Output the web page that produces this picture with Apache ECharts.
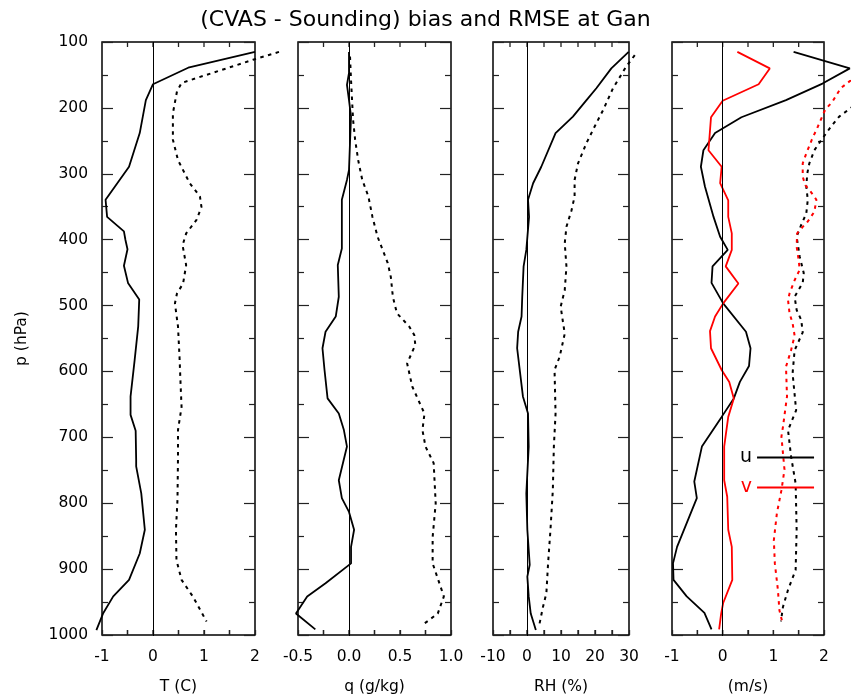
<!DOCTYPE html>
<html>
<head>
<meta charset="utf-8">
<script src="https://cdn.jsdelivr.net/npm/echarts@6/dist/echarts.min.js"></script>
<style>html,body{margin:0;padding:0;background:#fff;}#c{width:851px;height:700px;}</style>
</head>
<body>
<div id="c"></div>
<script>
// ---- data: [value, pressure(hPa)] ----
const tBias = [[2.0,115],[0.69,139],[0.0,164],[-0.14,188],[-0.2,213],[-0.26,238],[-0.47,289],[-0.93,339],[-0.9,365],[-0.57,387],[-0.54,400],[-0.5,414],[-0.57,439],[-0.49,465],[-0.27,490],[-0.29,531],[-0.36,582],[-0.44,637],[-0.44,665],[-0.34,689],[-0.33,733],[-0.33,743],[-0.23,784],[-0.16,839],[-0.26,875],[-0.47,915],[-0.78,940],[-0.98,966],[-1.11,991]];
const tRmse = [[2.47,115],[1.96,127],[0.56,162],[0.47,175],[0.39,208],[0.39,248],[0.49,279],[0.72,314],[0.92,334],[0.95,350],[0.85,370],[0.65,390],[0.58,408],[0.65,438],[0.59,466],[0.47,481],[0.43,496],[0.49,531],[0.52,577],[0.54,617],[0.56,653],[0.49,688],[0.49,730],[0.48,794],[0.45,839],[0.46,885],[0.56,915],[0.78,940],[1.05,978]];
const qBias = [[0,115],[0,147],[-0.02,165],[0,188],[0.02,213],[0.01,252],[0,294],[-0.02,309],[-0.07,339],[-0.07,365],[-0.07,413],[-0.11,438],[-0.1,486],[-0.13,516],[-0.23,539],[-0.26,564],[-0.24,597],[-0.21,640],[-0.1,663],[-0.05,688],[-0.02,713],[-0.1,764],[-0.07,791],[0,812],[0.05,839],[0.02,865],[0.02,890],[-0.23,920],[-0.41,940],[-0.52,966],[-0.33,990]];
const qRmse = [[0.01,122],[0.02,158],[0.03,188],[0.04,218],[0.06,248],[0.09,279],[0.13,309],[0.19,334],[0.23,365],[0.28,395],[0.33,415],[0.38,435],[0.41,456],[0.43,486],[0.47,511],[0.59,531],[0.64,544],[0.65,559],[0.57,587],[0.62,622],[0.74,663],[0.72,688],[0.75,713],[0.83,738],[0.85,799],[0.82,850],[0.82,890],[0.93,940],[0.87,966],[0.74,981]];
const rhBias = [[29.9,115],[24.8,140],[20.4,170],[17.5,188],[13.5,213],[8.4,238],[4.2,289],[1.8,314],[0.3,339],[0.6,365],[-0.2,415],[-1.0,440],[-1.4,486],[-1.6,516],[-2.6,539],[-2.9,564],[-1.2,637],[0.3,663],[0.5,713],[-0.2,784],[0.1,839],[0.8,892],[0.1,910],[0.5,940],[1.1,966],[2.6,991]];
const rhRmse = [[31.7,120],[29.2,137],[25.3,170],[22.4,203],[19.9,228],[17.5,253],[15.0,284],[14.0,309],[14.0,334],[13.1,355],[11.6,380],[11.1,405],[11.6,440],[11.1,476],[9.9,501],[11.1,542],[9.6,577],[8.1,597],[8.4,663],[7.9,713],[7.6,779],[6.9,839],[6.2,890],[5.7,935],[4.7,956],[3.7,981]];
const uBias = [[1.40,115],[2.51,140],[1.97,163],[1.25,188],[0.37,214],[-0.15,238],[-0.38,264],[-0.43,289],[-0.35,319],[-0.18,365],[-0.05,395],[0.1,415],[-0.2,440],[-0.22,465],[0.01,496],[0.46,539],[0.55,564],[0.52,591],[0.34,615],[0.22,640],[-0.02,668],[-0.41,713],[-0.56,766],[-0.51,791],[-0.9,865],[-0.98,890],[-0.97,915],[-0.71,940],[-0.36,965],[-0.22,990]];
const vBias = [[0.29,115],[0.93,140],[0.71,164],[0.0,189],[-0.23,214],[-0.28,264],[-0.02,289],[-0.05,314],[0.11,340],[0.11,365],[0.18,390],[0.18,415],[0.06,440],[0.31,466],[0.01,496],[-0.15,516],[-0.25,538],[-0.23,564],[-0.02,597],[0.13,615],[0.22,640],[0.11,668],[0.03,713],[0.03,764],[0.09,789],[0.11,839],[0.18,865],[0.19,915],[0.01,950],[-0.03,966],[-0.07,990]];
const uRmse = [[2.9,170],[2.53,200],[2.3,213],[2.14,228],[1.97,246],[1.81,264],[1.71,284],[1.67,299],[1.65,319],[1.68,339],[1.65,360],[1.55,377],[1.46,395],[1.52,425],[1.6,450],[1.58,465],[1.42,486],[1.46,506],[1.55,521],[1.58,540],[1.42,567],[1.38,602],[1.45,658],[1.29,688],[1.35,728],[1.44,769],[1.46,839],[1.44,900],[1.29,930],[1.19,956],[1.15,978]];
const vRmse = [[2.9,135],[2.53,158],[2.33,170],[2.17,190],[2.02,203],[1.88,228],[1.76,248],[1.65,269],[1.58,284],[1.58,304],[1.63,317],[1.74,327],[1.85,339],[1.81,357],[1.68,372],[1.58,380],[1.47,390],[1.46,410],[1.5,430],[1.52,445],[1.42,461],[1.32,481],[1.29,491],[1.32,511],[1.38,526],[1.42,545],[1.35,567],[1.25,592],[1.27,637],[1.19,683],[1.16,698],[1.22,748],[1.16,779],[1.07,814],[1.01,855],[1.03,890],[1.09,930],[1.12,961],[1.18,980]];

const panels = [
  {name:'T (C)', min:-1, max:2, tick:0.5, label:1, dec:0, bias:[{n:'T bias',d:tBias,c:'#000'}], rmse:[{n:'T rmse',d:tRmse,c:'#000'}]},
  {name:'q (g/kg)', min:-0.5, max:1.0, tick:0.25, label:0.5, dec:1, bias:[{n:'q bias',d:qBias,c:'#000'}], rmse:[{n:'q rmse',d:qRmse,c:'#000'}]},
  {name:'RH (%)', min:-10, max:30, tick:5, label:10, dec:0, bias:[{n:'RH bias',d:rhBias,c:'#000'}], rmse:[{n:'RH rmse',d:rhRmse,c:'#000'}]},
  {name:'(m/s)', min:-1, max:2, tick:0.5, label:1, dec:0, bias:[{n:'u',d:uBias,c:'#000'},{n:'v',d:vBias,c:'#ff0000'}], rmse:[{n:'u rmse',d:uRmse,c:'#000'},{n:'v rmse',d:vRmse,c:'#ff0000'}]}
];
const P_MIN = 100, P_MAX = 1000;
// layout (pixels)
const gridLefts = [102, 298, 493, 672];
const gridWidths = [153, 153, 136, 152];
const TOP = 42, HEIGHT = 594, XTICK = 5;
const PAD_L = 12, CANVAS_W = 851;

const FONT = 'DejaVu Sans';
const grids = [], xAxes = [], yAxes = [], series = [];
const tickColor = '#222';
function addGrid(g) { grids.push(g); return grids.length - 1; }

panels.forEach((p, i) => {
  const L = gridLefts[i], W = gridWidths[i];
  const ppu = W / (p.max - p.min);
  // frame grid: border, labels, y ticks
  const gF = addGrid({left: L, width: W, top: TOP, height: HEIGHT, show: true, borderColor: '#000', borderWidth: 1.5});
  const xF = xAxes.length, yF = yAxes.length;
  xAxes.push({gridIndex: gF, type: 'value', position: 'bottom', min: p.min, max: p.max, interval: p.label,
    axisLine: {show: false, onZero: false}, splitLine: {show: false},
    axisTick: {show: true, inside: true, length: XTICK, lineStyle: {color: tickColor, width: 1.3}},
    minorTick: {show: true, splitNumber: Math.round(p.label / p.tick), length: XTICK, lineStyle: {color: tickColor, width: 1.3}},
    axisLabel: {margin: 14, fontFamily: FONT, fontSize: 15.5, color: '#000', formatter: v => v.toFixed(p.dec)},
    name: p.name, nameLocation: 'middle', nameGap: 44, nameTextStyle: {fontFamily: FONT, fontSize: 15.5, color: '#000'}});
  function yBase(pos) {
    return {gridIndex: gF, type: 'value', position: pos, inverse: true, min: P_MIN, max: P_MAX, interval: 100,
      axisLine: {show: false, onZero: false}, splitLine: {show: false},
      axisTick: {show: true, inside: true, length: 11, lineStyle: {color: tickColor, width: 1.2}},
      minorTick: {show: true, splitNumber: 2, length: 6, lineStyle: {color: tickColor, width: 1.2}}};
  }
  yAxes.push(Object.assign(yBase('left'), {
    axisLabel: {show: i === 0, margin: 14, fontFamily: FONT, fontSize: 15.5, color: '#000', formatter: v => String(v)},
    name: i === 0 ? 'p (hPa)' : '', nameLocation: 'middle', nameRotate: 90, nameGap: 72,
    nameTextStyle: {fontFamily: FONT, fontSize: 15.5, color: '#000'}}));
  yAxes.push(Object.assign(yBase('right'), {axisLabel: {show: false}}));

  // x ticks on top and bottom frame edges: short segments in axis units on the frame axes
  const dp = XTICK * (P_MAX - P_MIN) / HEIGHT;
  const nT = Math.round((p.max - p.min) / p.tick);
  for (let k = 1; k < nT; k++) {
    const v = p.min + k * p.tick;
    [[P_MIN, P_MIN + dp], [P_MAX - dp, P_MAX]].forEach(([a, b]) => {
      series.push({type: 'line', xAxisIndex: xF, yAxisIndex: yF, data: [[v, a], [v, b]], symbol: 'none', clip: false,
        silent: true, z: 4, lineStyle: {color: tickColor, width: 1.3, type: 'solid'}, color: tickColor});
    });
  }

  // data grid: same scale, extended so lines may run past the frame
  const dL = L - PAD_L, dW = CANVAS_W - dL;
  const gD = addGrid({left: dL, width: dW, top: TOP, height: HEIGHT, show: false});
  const xD = xAxes.length, yD = yAxes.length;
  xAxes.push({gridIndex: gD, type: 'value', show: false, min: p.min - PAD_L / ppu, max: p.min - PAD_L / ppu + dW / ppu});
  yAxes.push({gridIndex: gD, type: 'value', show: false, inverse: true, min: P_MIN, max: P_MAX});

  p.bias.forEach((s, k) => {
    const ser = {name: s.n, type: 'line', xAxisIndex: xD, yAxisIndex: yD, data: s.d, symbol: 'none', clip: false,
      color: s.c, lineStyle: {color: s.c, width: 1.8, type: 'solid'}, z: 3, silent: true};
    if (k === 0) {
      ser.markLine = {silent: true, symbol: ['none', 'none'], label: {show: false}, animation: false,
        lineStyle: {color: '#000', width: 1, type: 'solid'}, data: [{xAxis: 0}]};
    }
    series.push(ser);
  });
  p.rmse.forEach(s => {
    series.push({name: s.n, type: 'line', xAxisIndex: xD, yAxisIndex: yD, data: s.d, symbol: 'none', clip: false,
      color: s.c, lineStyle: {color: s.c, width: 2, type: [3.5, 4.5]}, z: 3, silent: true});
  });
});

const chart = echarts.init(document.getElementById('c'), null, {renderer: 'canvas'});
chart.setOption({
  animation: false,
  backgroundColor: '#fff',
  title: {text: '(CVAS - Sounding) bias and RMSE at Gan', left: 'center', top: 4,
    textStyle: {fontFamily: FONT, fontSize: 22, fontWeight: 'normal', color: '#000'}},
  legend: {orient: 'vertical', left: 735, top: 443, align: 'right', icon: 'rect', itemWidth: 57, itemHeight: 2, itemGap: 11,
    selectedMode: false, textStyle: {fontFamily: FONT, fontSize: 19, color: '#000'},
    data: [{name: 'u', textStyle: {color: '#000'}}, {name: 'v', textStyle: {color: '#ff0000'}}]},
  grid: grids, xAxis: xAxes, yAxis: yAxes, series: series
});
</script>
</body>
</html>
